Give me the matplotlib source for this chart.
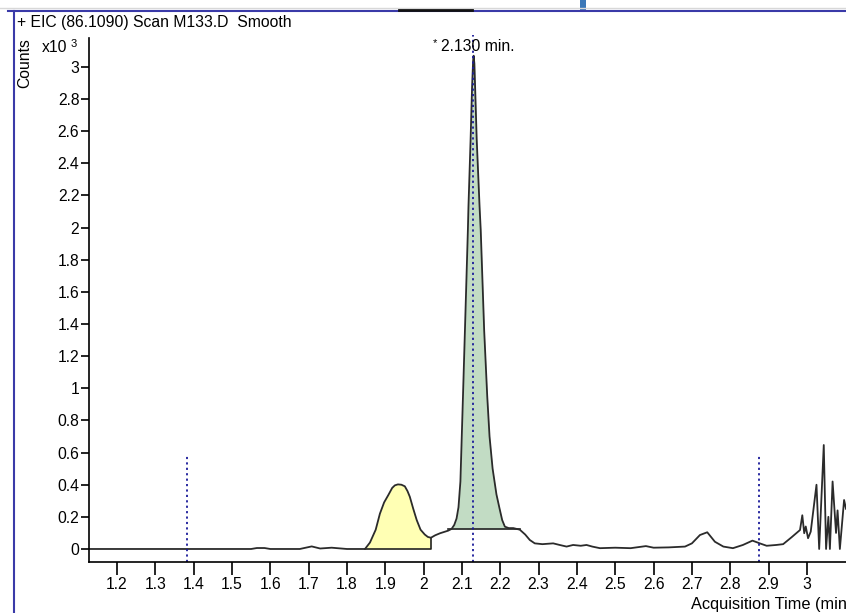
import numpy as np
import matplotlib
matplotlib.use("Agg")
import matplotlib.pyplot as plt
from matplotlib.lines import Line2D
from matplotlib.patches import Rectangle

# chromatogram trace, acquisition time (min) vs counts (x10^3)
time = [1.127, 1.30, 1.50, 1.55, 1.565, 1.585, 1.60, 1.677, 1.708, 1.73, 1.76, 1.80, 1.847,
        1.86, 1.875, 1.886, 1.897, 1.908, 1.918, 1.925, 1.933, 1.942, 1.951, 1.958, 1.964,
        1.973, 1.982, 1.992, 2.003, 2.011, 2.019, 2.03, 2.043,
        2.064, 2.073, 2.08, 2.086, 2.091, 2.096, 2.1027, 2.1078, 2.1155, 2.117, 2.1226, 2.1265,
        2.1292, 2.1305, 2.1325, 2.1385, 2.146, 2.149, 2.158, 2.166, 2.172, 2.18, 2.19, 2.198,
        2.205, 2.212, 2.222, 2.234, 2.251,
        2.265, 2.277, 2.29, 2.31, 2.338, 2.355, 2.373, 2.39, 2.41, 2.425, 2.44, 2.46, 2.50,
        2.54, 2.58, 2.60, 2.64, 2.682, 2.70, 2.721, 2.74, 2.76, 2.782, 2.807, 2.833, 2.858,
        2.877, 2.895, 2.92, 2.938, 2.96, 2.982, 2.988, 2.993, 2.997, 3.003, 3.010, 3.025,
        3.032, 3.044, 3.050, 3.056, 3.060, 3.067, 3.076, 3.080, 3.086, 3.097, 3.102]
counts = [0.0, 0.0, 0.0, 0.0, 0.006, 0.006, 0.0, 0.0, 0.016, 0.003, 0.008, 0.0, 0.0,
          0.04, 0.12, 0.22, 0.29, 0.336, 0.38, 0.396, 0.402, 0.400, 0.39, 0.36, 0.325,
          0.25, 0.18, 0.12, 0.09, 0.075, 0.07, 0.085, 0.098,
          0.114, 0.125, 0.15, 0.19, 0.26, 0.42, 0.95, 1.36, 1.985, 2.13, 2.55, 2.88,
          3.04, 3.07, 3.02, 2.55, 2.13, 1.985, 1.36, 0.95, 0.70, 0.50, 0.34, 0.253,
          0.18, 0.139, 0.13, 0.13, 0.12,
          0.09, 0.056, 0.035, 0.03, 0.035, 0.025, 0.015, 0.025, 0.02, 0.025, 0.015, 0.005, 0.008,
          0.005, 0.018, 0.008, 0.01, 0.015, 0.035, 0.087, 0.104, 0.045, 0.015, 0.005, 0.025, 0.052,
          0.035, 0.02, 0.025, 0.03, 0.073, 0.118, 0.21, 0.098, 0.14, 0.067, 0.108, 0.40,
          0.0, 0.647, 0.0, 0.20, 0.0, 0.42, 0.10, 0.24, 0.0, 0.305, 0.25]

# integrated peaks: start, end, baseline level
peak1 = (1.847, 2.019, 0.0)
peak2 = (2.073, 2.251, 0.125)
baseline2_start = 2.064

rt_label = "2.130 min."
rt = 2.130
markers = [1.383, 2.875]

xticks = [1.2, 1.3, 1.4, 1.5, 1.6, 1.7, 1.8, 1.9, 2.0, 2.1, 2.2, 2.3, 2.4, 2.5, 2.6, 2.7, 2.8, 2.9, 3.0]
yticks = [0, 0.2, 0.4, 0.6, 0.8, 1, 1.2, 1.4, 1.6, 1.8, 2, 2.2, 2.4, 2.6, 2.8, 3]

W, H = 846, 613
FS = 11.3
plt.rcParams['font.family'] = ['Liberation Sans', 'DejaVu Sans']
fig = plt.figure(figsize=(W / 100, H / 100), dpi=100)

def fx(px):
    return px / W

def fy(py):
    return 1 - py / H

ax = fig.add_axes([fx(89), fy(562), 1 - fx(89), fy(38) - fy(562)])
t = np.array(time)
c = np.array(counts)

# yellow peak
m1 = (t >= peak1[0]) & (t <= peak1[1])
ax.fill_between(t[m1], c[m1], peak1[2], color='#ffffb4', lw=0)
ax.plot([peak1[0], peak1[1], peak1[1]], [peak1[2], peak1[2], c[m1][-1]], color='#222222', lw=1.2)

# green peak
m2 = (t >= peak2[0]) & (t <= peak2[1])
ax.fill_between(t[m2], c[m2], peak2[2], color='#c2dcc4', lw=0)
ax.plot([baseline2_start, peak2[1]], [peak2[2], peak2[2]], color='#222222', lw=1.2)

ax.plot(t, c, color='#2b2b2b', lw=1.3, solid_joinstyle='round')

# dotted markers
for m in markers:
    ax.plot([m, m], [-0.08, 0.585], color='#1a1a9a', ls=(0, (1.2, 1.8)), lw=1.3, clip_on=False)
ax.plot([rt, rt], [-0.08, 3.2], color='#1a1a9a', ls=(0, (1.2, 1.8)), lw=1.3, clip_on=False)
ax.text(2.045, 3.124, rt_label, fontsize=FS, va='center', ha='left', clip_on=False)
ax.text(2.023, 3.15, "*", fontsize=8, va='center', ha='left', clip_on=False)

ax.set_xlim(1.127, 3.102)
ax.set_ylim(-0.081, 3.18)
ax.set_xticks(xticks)
ax.set_xticklabels(['%g' % v for v in xticks])
ax.set_yticks(yticks)
ax.set_yticklabels(['%g' % v for v in yticks])
ax.tick_params(axis='x', direction='out', length=9, width=1.2, labelsize=FS, pad=2)
ax.tick_params(axis='y', direction='out', length=6, width=1.2, labelsize=FS, pad=1)
for s in ['top', 'right']:
    ax.spines[s].set_visible(False)
for s in ['left', 'bottom']:
    ax.spines[s].set_linewidth(1.2)
ax.patch.set_alpha(0)

# labels
fig.text(fx(17), fy(23), "+ EIC (86.1090) Scan M133.D  Smooth", fontsize=FS, va='center', ha='left')
fig.text(fx(25), fy(63), "Counts", fontsize=FS, rotation=90, va='center', ha='center')
fig.text(fx(42), fy(48), "x10", fontsize=FS, va='center', ha='left')
fig.text(fx(71), fy(44), "3", fontsize=8, va='center', ha='left')
fig.text(fx(691), fy(604), "Acquisition Time (min)", fontsize=FS + 0.5, va='center', ha='left')

# window frame from the screenshot
fig.add_artist(Line2D([fx(0), 1], [fy(8), fy(8)], color='#d8d8d8', lw=1))
fig.add_artist(Line2D([fx(8), 1], [fy(11), fy(11)], color='#3a3aa8', lw=1.5))
fig.add_artist(Line2D([fx(14), fx(14)], [0, fy(11)], color='#3a3aa8', lw=1.5))
fig.add_artist(Line2D([fx(399), fx(472)], [fy(10), fy(10)], color='#111111', lw=2))
fig.add_artist(Rectangle((fx(580), fy(12)), fx(6), fy(0) - fy(12), color='#3b78b8', lw=0))

fig.savefig("out.png", dpi=100)
